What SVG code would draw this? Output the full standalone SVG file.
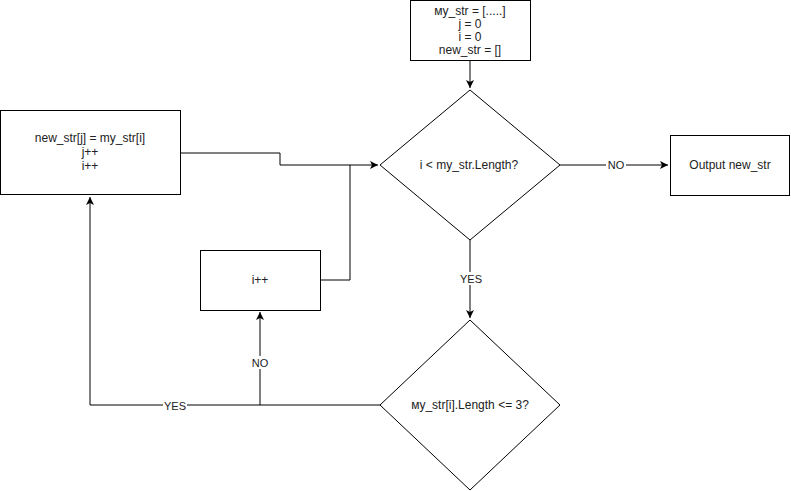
<svg xmlns="http://www.w3.org/2000/svg" width="791" height="491" viewBox="0 0 791 491">
<style>
.n{fill:#fff;stroke:#000;stroke-width:1}
.t{font-family:"Liberation Sans",Arial,sans-serif;font-size:12px;fill:#222;text-anchor:middle}
.l{font-family:"Liberation Sans",Arial,sans-serif;font-size:11px;fill:#222;text-anchor:middle}
.e{fill:none;stroke:#000;stroke-width:1}
.bg{fill:#fff}
</style>
<defs>
<marker id="a" markerWidth="10" markerHeight="10" refX="8" refY="4" orient="auto" markerUnits="userSpaceOnUse">
<path d="M0,0 L8,4 L0,8 L2,4 Z" fill="#000"/>
</marker>
</defs>
<rect width="791" height="491" fill="#fff"/>
<g id="connectors">
<path class="e" d="M470,61 V88" marker-end="url(#a)"/>
<path class="e" d="M560,165 H668" marker-end="url(#a)"/>
<path class="e" d="M470,240 V318" marker-end="url(#a)"/>
<path class="e" d="M180,153 H280 V165 H378" marker-end="url(#a)"/>
<path class="e" d="M320,280 H350 V165"/>
<path class="e" d="M380,405 H90 V197" marker-end="url(#a)"/>
<path class="e" d="M260,405 V312" marker-end="url(#a)"/>
<rect class="bg" x="606" y="158" width="20" height="13"/>
<text class="l" x="616" y="169">NO</text>
<rect class="bg" x="460" y="272" width="22" height="13"/>
<text class="l" x="471" y="283">YES</text>
<rect class="bg" x="250" y="356" width="20" height="13"/>
<text class="l" x="260" y="367">NO</text>
<rect class="bg" x="163" y="399" width="24" height="13"/>
<text class="l" x="175" y="410">YES</text>
</g>
<g id="init">
<rect class="n" x="410.5" y="0.5" width="120" height="60"/>
<text class="t" x="470" y="14.5">мy_str = [.....]</text>
<text class="t" x="470" y="27.5">j = 0</text>
<text class="t" x="470" y="40.5">i = 0</text>
<text class="t" x="470" y="53.5">new_str = []</text>
</g>
<g id="cond1">
<polygon class="n" points="470,90 560,165 470,240 380,165"/>
<text class="t" x="469" y="169">i &lt; my_str.Length?</text>
</g>
<g id="output">
<rect class="n" x="670.5" y="135.5" width="119" height="60"/>
<text class="t" x="730" y="169">Output new_str</text>
</g>
<g id="assign">
<rect class="n" x="0.5" y="110.5" width="180" height="84"/>
<text class="t" x="90" y="142">new_str[j] = my_str[i]</text>
<text class="t" x="90" y="156">j++</text>
<text class="t" x="90" y="170">i++</text>
</g>
<g id="inc">
<rect class="n" x="200.5" y="250.5" width="120" height="60"/>
<text class="t" x="260" y="284">i++</text>
</g>
<g id="cond2">
<polygon class="n" points="470,320 560,405 470,490 380,405"/>
<text class="t" x="470" y="409">мy_str[i].Length &lt;= 3?</text>
</g>
</svg>
